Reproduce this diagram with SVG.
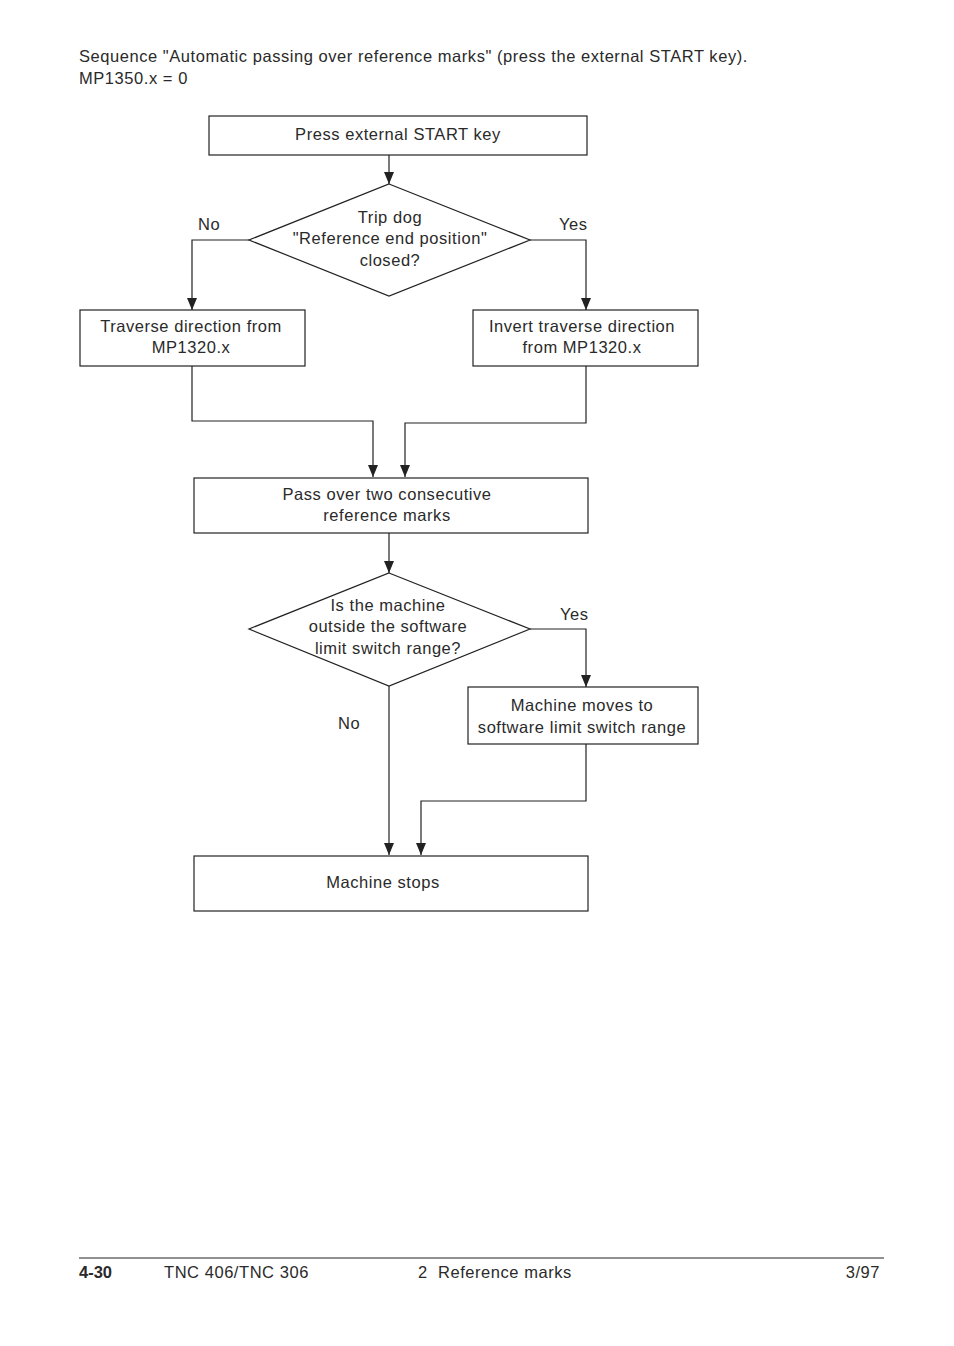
<svg xmlns="http://www.w3.org/2000/svg" width="954" height="1346" viewBox="0 0 954 1346">
<defs>
<marker id="ah" markerWidth="12" markerHeight="10" refX="12" refY="5" orient="auto" markerUnits="userSpaceOnUse" viewBox="0 0 12 10">
<path d="M0,0 L12,5 L0,10 Z" fill="#222"/>
</marker>
</defs>
<style>
text{font-family:"Liberation Sans",Arial,sans-serif;font-size:16.5px;letter-spacing:0.55px;fill:#2a2a2a}
.c{text-anchor:middle}
.n{fill:#fff;stroke:#222;stroke-width:1.2}
.e{fill:none;stroke:#222;stroke-width:1.2}
.b{font-weight:bold;letter-spacing:0}
</style>
<rect width="954" height="1346" fill="#fff"/>
<g id="header">
<text x="79" y="62">Sequence "Automatic passing over reference marks" (press the external START key).</text>
<text x="79" y="84">MP1350.x = 0</text>
</g>
<g id="connectors">
<line class="e" x1="389" y1="155" x2="389" y2="184" marker-end="url(#ah)"/>
<polyline class="e" points="249,240 192,240 192,310" marker-end="url(#ah)"/>
<polyline class="e" points="530,240 586,240 586,310" marker-end="url(#ah)"/>
<polyline class="e" points="192,366 192,421 373,421 373,477" marker-end="url(#ah)"/>
<polyline class="e" points="586,366 586,423 405,423 405,477" marker-end="url(#ah)"/>
<line class="e" x1="389" y1="533" x2="389" y2="573" marker-end="url(#ah)"/>
<polyline class="e" points="530,629 586,629 586,687" marker-end="url(#ah)"/>
<line class="e" x1="389" y1="686" x2="389" y2="855" marker-end="url(#ah)"/>
<polyline class="e" points="586,744 586,801 421,801 421,855" marker-end="url(#ah)"/>
<text x="198" y="230">No</text>
<text x="559" y="230">Yes</text>
<text x="560" y="620">Yes</text>
<text x="338" y="729">No</text>
</g>
<g id="start">
<rect class="n" x="209" y="116" width="378" height="39"/>
<text class="c" x="398" y="140">Press external START key</text>
</g>
<g id="dec1">
<polygon class="n" points="389,184 530,240 389,296 249,240"/>
<text class="c" x="390" y="223">Trip dog</text>
<text class="c" x="390" y="244">"Reference end position"</text>
<text class="c" x="390" y="266">closed?</text>
</g>
<g id="trav">
<rect class="n" x="80" y="310" width="225" height="56"/>
<text class="c" x="191" y="332">Traverse direction from</text>
<text class="c" x="191" y="353">MP1320.x</text>
</g>
<g id="inv">
<rect class="n" x="473" y="310" width="225" height="56"/>
<text class="c" x="582" y="332">Invert traverse direction</text>
<text class="c" x="582" y="353">from MP1320.x</text>
</g>
<g id="pass">
<rect class="n" x="194" y="478" width="394" height="55"/>
<text class="c" x="387" y="500">Pass over two consecutive</text>
<text class="c" x="387" y="521">reference marks</text>
</g>
<g id="dec2">
<polygon class="n" points="389,573 530,629 389,686 249,629"/>
<text class="c" x="388" y="611">Is the machine</text>
<text class="c" x="388" y="632">outside the software</text>
<text class="c" x="388" y="654">limit switch range?</text>
</g>
<g id="moves">
<rect class="n" x="468" y="687" width="230" height="57"/>
<text class="c" x="582" y="711">Machine moves to</text>
<text class="c" x="582" y="733">software limit switch range</text>
</g>
<g id="stops">
<rect class="n" x="194" y="856" width="394" height="55"/>
<text class="c" x="383" y="888">Machine stops</text>
</g>
<g id="footer">
<line x1="79" y1="1258" x2="884" y2="1258" stroke="#222" stroke-width="1"/>
<text class="b" x="79" y="1278">4-30</text>
<text x="164" y="1278">TNC 406/TNC 306</text>
<text x="418" y="1278" xml:space="preserve">2  Reference marks</text>
<text x="880" y="1278" text-anchor="end">3/97</text>
</g>
</svg>
